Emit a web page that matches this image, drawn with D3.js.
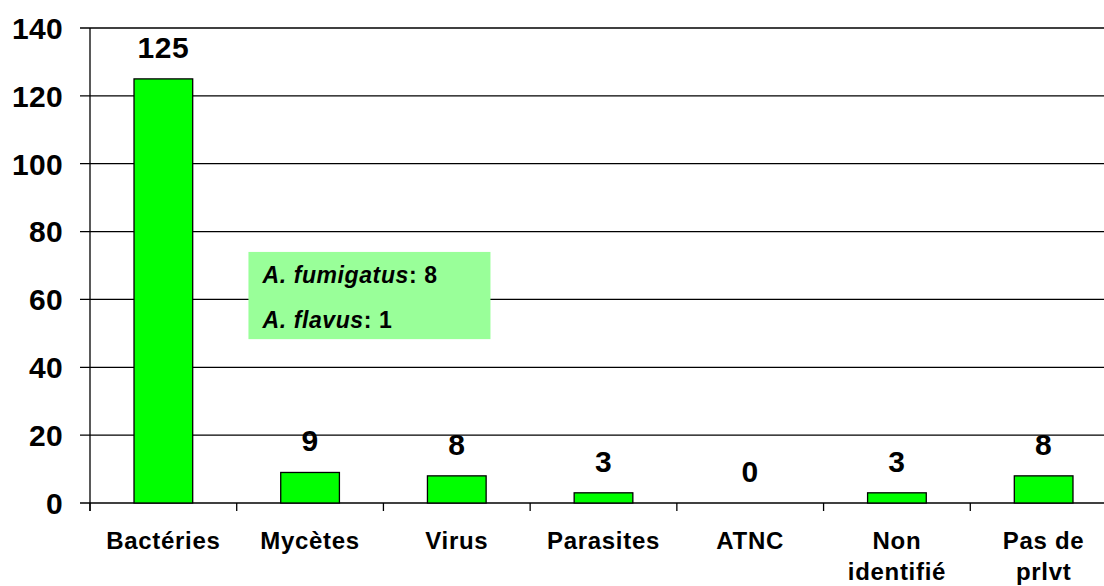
<!DOCTYPE html>
<html>
<head>
<meta charset="utf-8">
<script src="https://cdn.jsdelivr.net/npm/d3@7"></script>
<style>
  body { margin: 0; background: #fff; }
  svg text { font-family: "Liberation Sans", Arial, sans-serif; font-weight: bold; }
</style>
</head>
<body>
<div id="chart"></div>
<script>
// data
const categories = [["Bactéries"], ["Mycètes"], ["Virus"], ["Parasites"], ["ATNC"], ["Non", "identifié"], ["Pas de", "prlvt"]];
const values = [125, 9, 8, 3, 0, 3, 8];
const yTicks = [0, 20, 40, 60, 80, 100, 120, 140];
const noteLines = [["A. fumigatus", ": 8"], ["A. flavus", ": 1"]];

const width = 1104, height = 586;
const plot = { left: 90, right: 1117, top: 28, bottom: 503 };

const svg = d3.select("#chart").append("svg")
  .attr("width", width)
  .attr("height", height);

const keys = categories.map(c => c.join(" "));

let x = d3.scaleBand()
  .domain(keys)
  .range([plot.left, plot.right])
  .paddingInner(0.6)
  .paddingOuter(0.3);

let y = d3.scaleLinear()
  .domain([0, 140])
  .range([plot.bottom, plot.top]);

// gridlines
svg.append("g")
  .selectAll("line")
  .data(yTicks)
  .enter().append("line")
  .attr("x1", plot.left - 10)
  .attr("x2", width)
  .attr("y1", d => y(d))
  .attr("y2", d => y(d))
  .attr("stroke", "#000")
  .attr("stroke-width", 1.3);

// y tick labels
svg.append("g")
  .selectAll("text")
  .data(yTicks)
  .enter().append("text")
  .attr("x", plot.left - 27)
  .attr("y", d => y(d))
  .attr("dy", "0.36em")
  .attr("text-anchor", "end")
  .attr("font-size", 30)
  .attr("letter-spacing", 0.3)
  .text(d => d);

// y axis line
svg.append("line")
  .attr("x1", plot.left).attr("x2", plot.left)
  .attr("y1", plot.top).attr("y2", plot.bottom + 8)
  .attr("stroke", "#000").attr("stroke-width", 1.3);

// category separators under the axis
const step = x.step();
svg.append("g")
  .selectAll("line")
  .data(d3.range(keys.length + 1))
  .enter().append("line")
  .attr("x1", i => plot.left + i * step)
  .attr("x2", i => plot.left + i * step)
  .attr("y1", plot.bottom)
  .attr("y2", plot.bottom + 8)
  .attr("stroke", "#000")
  .attr("stroke-width", 1.3);

// bars
svg.append("g")
  .selectAll("rect")
  .data(values)
  .enter().append("rect")
  .attr("x", (d, i) => x(keys[i]))
  .attr("y", d => y(d))
  .attr("width", x.bandwidth())
  .attr("height", d => y(0) - y(d))
  .attr("fill", "#00ff00")
  .attr("stroke", "#000")
  .attr("stroke-width", 1.3);

// value labels
svg.append("g")
  .selectAll("text")
  .data(values)
  .enter().append("text")
  .attr("x", (d, i) => x(keys[i]) + x.bandwidth() / 2)
  .attr("y", d => y(d) - 21)
  .attr("text-anchor", "middle")
  .attr("font-size", 30)
  .attr("letter-spacing", 0.5)
  .text(d => d);

// category labels
svg.append("g")
  .selectAll("text")
  .data(categories)
  .enter().append("text")
  .attr("x", (d, i) => x(keys[i]) + x.bandwidth() / 2)
  .attr("y", 549)
  .attr("text-anchor", "middle")
  .attr("font-size", 24)
  .attr("letter-spacing", 0.7)
  .each(function(d) {
    d3.select(this).selectAll("tspan")
      .data(d)
      .enter().append("tspan")
      .attr("x", d3.select(this).attr("x"))
      .attr("dy", (t, j) => j === 0 ? 0 : 31)
      .text(t => t);
  });

// annotation box
const boxX = plot.left + 1.08 * step;
const boxW = 242;
svg.append("rect")
  .attr("x", boxX)
  .attr("y", y(74))
  .attr("width", boxW)
  .attr("height", y(48.3) - y(74))
  .attr("fill", "#99ff99");

const note = svg.append("g");
noteLines.forEach((line, i) => {
  const t = note.append("text")
    .attr("x", boxX + 14)
    .attr("y", y(74) + 31 + i * 45)
    .attr("font-size", 23)
    .attr("letter-spacing", 0.6);
  t.append("tspan").attr("font-style", "italic").text(line[0]);
  t.append("tspan").text(line[1]);
});
</script>
</body>
</html>
